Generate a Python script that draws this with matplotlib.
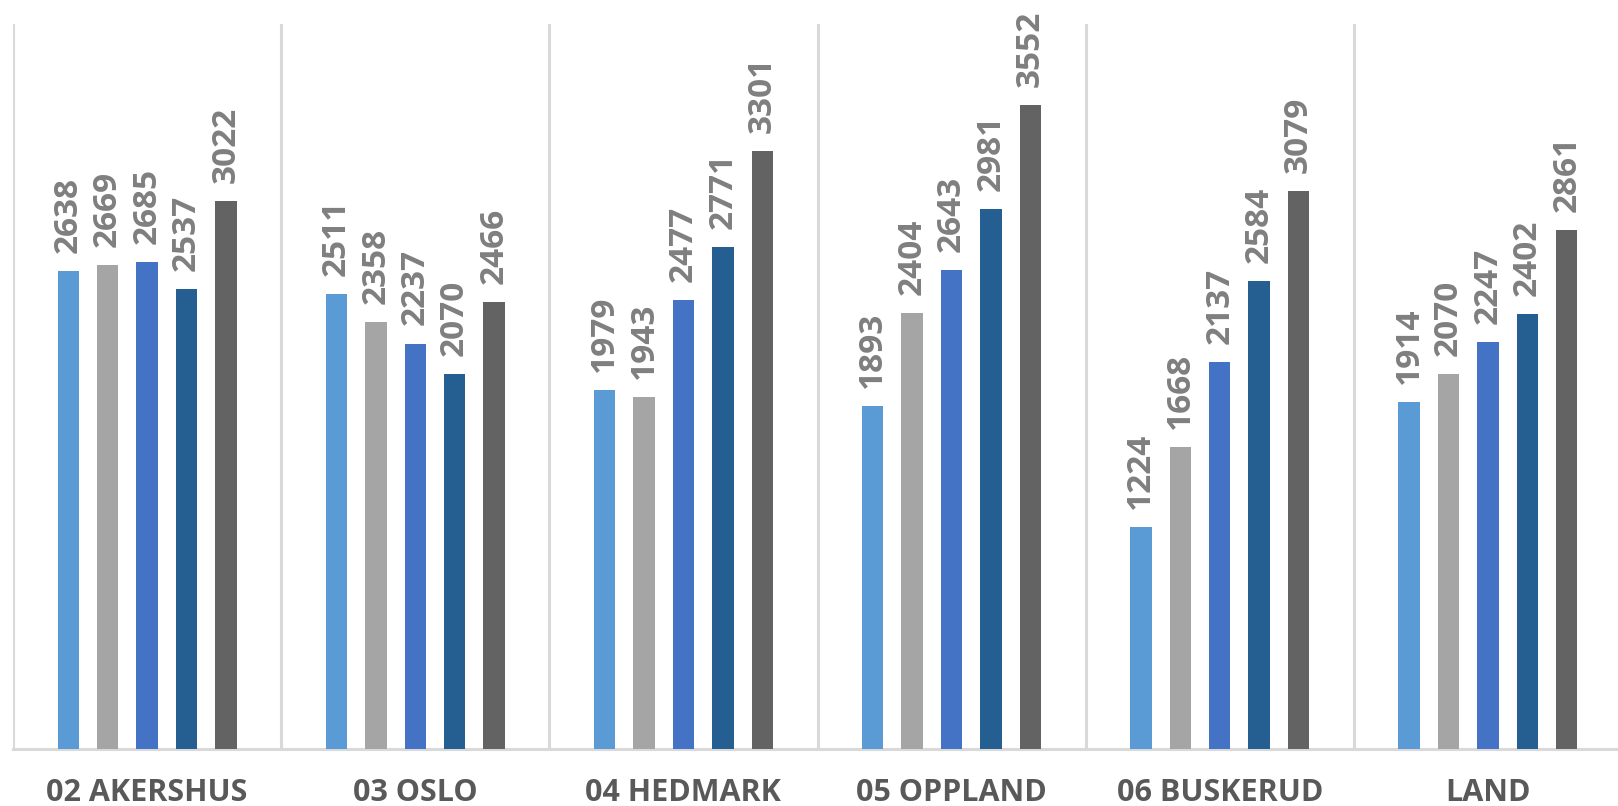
import matplotlib
matplotlib.use("Agg")
import matplotlib.pyplot as plt
import numpy as np

categories = ["02 AKERSHUS", "03 OSLO", "04 HEDMARK", "05 OPPLAND", "06 BUSKERUD", "LAND"]
serie_1 = [2638, 2511, 1979, 1893, 1224, 1914]
serie_2 = [2669, 2358, 1943, 2404, 1668, 2070]
serie_3 = [2685, 2237, 2477, 2643, 2137, 2247]
serie_4 = [2537, 2070, 2771, 2981, 2584, 2402]
serie_5 = [3022, 2466, 3301, 3552, 3079, 2861]
series = [serie_1, serie_2, serie_3, serie_4, serie_5]
colors = ["#5B9BD5", "#A5A5A5", "#4472C4", "#255E91", "#636363"]

fig = plt.figure(figsize=(16.18, 8.06), dpi=100)
ax = fig.add_axes([13 / 1618, 57 / 806, 1609 / 1618, (749 - 24) / 806])

x = np.arange(len(categories))
slot = 0.147
width = 0.08
for i, (vals, col) in enumerate(zip(series, colors)):
    pos = x + (i - 2) * slot
    bars = ax.bar(pos, vals, width=width, color=col, zorder=3)
    for b, v in zip(bars, vals):
        ax.annotate(str(v), (b.get_x() + b.get_width() / 2, v),
                    xytext=(0, 13), textcoords="offset points",
                    rotation=90, ha="center", va="bottom",
                    fontsize=24, fontweight="bold", color="#7F7F7F",
                    family="Open Sans")

ax.set_ylim(0, 4000)
ax.set_xlim(-0.5, len(categories) - 0.5)

for b in np.arange(-0.5, len(categories) + 0.5, 1.0):
    ax.axvline(b, color="#D9D9D9", lw=2.2, zorder=1)

for s in ["top", "right", "left"]:
    ax.spines[s].set_visible(False)
ax.spines["bottom"].set_color("#D9D9D9")
ax.spines["bottom"].set_linewidth(2.2)
ax.set_yticks([])
ax.set_xticks(x)
ax.set_xticklabels(categories, fontsize=22, fontweight="bold", color="#595959",
                   family="Open Sans")
ax.tick_params(axis="x", length=0, pad=21)

fig.savefig("out.png", dpi=100)
